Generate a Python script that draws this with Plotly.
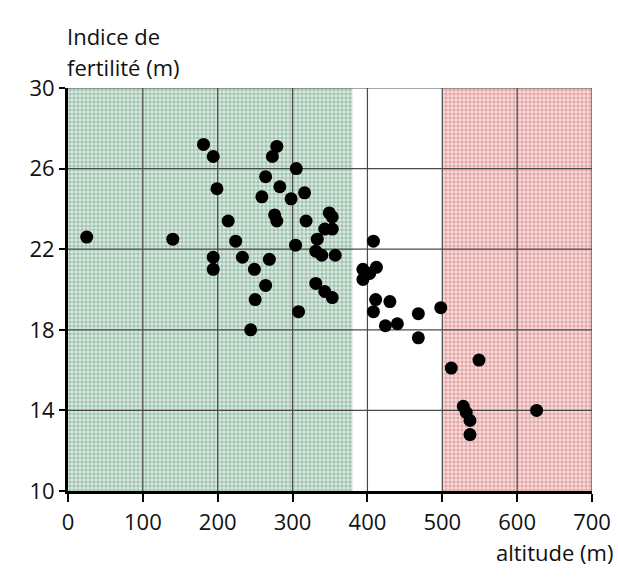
import plotly.graph_objects as go

altitude = [25, 140, 181, 194, 199, 214, 224, 194, 194, 233, 249, 264, 250, 244, 269,
            279, 273, 264, 259, 283, 276, 279, 305, 298, 316, 318, 304, 308, 333, 331,
            339, 357, 349, 353, 343, 353, 331, 343, 353,
            408, 394, 412, 403, 394, 411, 430, 408, 424, 440, 468, 468, 498,
            512, 549, 528, 532, 537, 537, 626]
fertilite = [22.6, 22.5, 27.2, 26.6, 25.0, 23.4, 22.4, 21.6, 21.0, 21.6, 21.0, 20.2, 19.5, 18.0, 21.5,
             27.1, 26.6, 25.6, 24.6, 25.1, 23.7, 23.4, 26.0, 24.5, 24.8, 23.4, 22.2, 18.9, 22.5, 21.9,
             21.7, 21.7, 23.8, 23.6, 23.0, 23.0, 20.3, 19.9, 19.6,
             22.4, 21.0, 21.1, 20.8, 20.5, 19.5, 19.4, 18.9, 18.2, 18.3, 18.8, 17.6, 19.1,
             16.1, 16.5, 14.2, 13.9, 13.5, 12.8, 14.0]

green_zone = [0, 380]
red_zone = [500, 700]
x_range = [0, 700]
y_range = [10, 30]
x_ticks = [0, 100, 200, 300, 400, 500, 600, 700]
y_ticks = [10, 14, 18, 22, 26, 30]

fig = go.Figure()

def zone(x0, x1, fg, bg):
    fig.add_trace(go.Scatter(
        x=[x0, x1, x1, x0, x0], y=[y_range[0], y_range[0], y_range[1], y_range[1], y_range[0]],
        mode="lines", line=dict(width=0), fill="toself", fillcolor=bg,
        fillpattern=dict(shape=".", fgcolor=fg, bgcolor=bg, size=4, solidity=0.6),
        hoverinfo="skip", showlegend=False))

zone(green_zone[0], green_zone[1], "#5f9f80", "#e2ece5")
zone(red_zone[0], red_zone[1], "#d36e70", "#f6e2e0")

# grid lines drawn above the shaded zones
gx, gy = [], []
for t in x_ticks[1:-1]:
    gx += [t, t, None]
    gy += [y_range[0], y_range[1], None]
for t in y_ticks[1:-1]:
    gx += [x_range[0], x_range[1], None]
    gy += [t, t, None]
gx += [x_range[1], x_range[1], None, x_range[0], x_range[1]]
gy += [y_range[0], y_range[1], None, y_range[1], y_range[1]]
fig.add_trace(go.Scatter(x=gx, y=gy, mode="lines", line=dict(color="#4a4a4a", width=1.2),
                         hoverinfo="skip", showlegend=False))

fig.add_trace(go.Scatter(
    x=altitude, y=fertilite, mode="markers",
    marker=dict(color="black", size=13, line=dict(width=0)),
    showlegend=False))

font_family = "'Open Sans', Lato, sans-serif"

fig.update_xaxes(
    range=x_range, tickvals=x_ticks, showgrid=False, automargin=False,
    showline=True, linecolor="black", linewidth=3, ticks="outside", ticklen=8,
    tickwidth=2, tickcolor="black", zeroline=False, layer="above traces",
    ticklabeloverflow="allow",
    tickfont=dict(size=22, color="#111111", family=font_family), ticklabelstandoff=2)
fig.update_yaxes(
    range=y_range, tickvals=y_ticks, showgrid=False, automargin=False,
    showline=True, linecolor="black", linewidth=3, ticks="outside", ticklen=6,
    tickwidth=2, tickcolor="black", zeroline=False, layer="above traces",
    tickfont=dict(size=22, color="#111111", family=font_family))

fig.add_annotation(text="Indice de", xref="paper", yref="paper",
                   x=0, y=1, xanchor="left", yanchor="middle", xshift=-3, yshift=52, showarrow=False,
                   align="left", font=dict(size=22, color="#111111", family=font_family))
fig.add_annotation(text="fertilité (m)", xref="paper", yref="paper",
                   x=0, y=1, xanchor="left", yanchor="middle", xshift=-3, yshift=21, showarrow=False,
                   align="left", font=dict(size=22, color="#111111", family=font_family))
fig.add_annotation(text="altitude (m)", xref="paper", yref="paper",
                   x=1, y=0, xanchor="right", yanchor="top", xshift=23, yshift=-44,
                   showarrow=False, font=dict(size=22, color="#111111", family=font_family))

fig.update_layout(
    width=616, height=580, margin=dict(l=68, r=24, t=88, b=89, autoexpand=False),
    paper_bgcolor="white", plot_bgcolor="white",
    font=dict(family=font_family))

fig.write_html("out.html", config={"displayModeBar": False},
               post_script="document.body.style.margin='0';")
